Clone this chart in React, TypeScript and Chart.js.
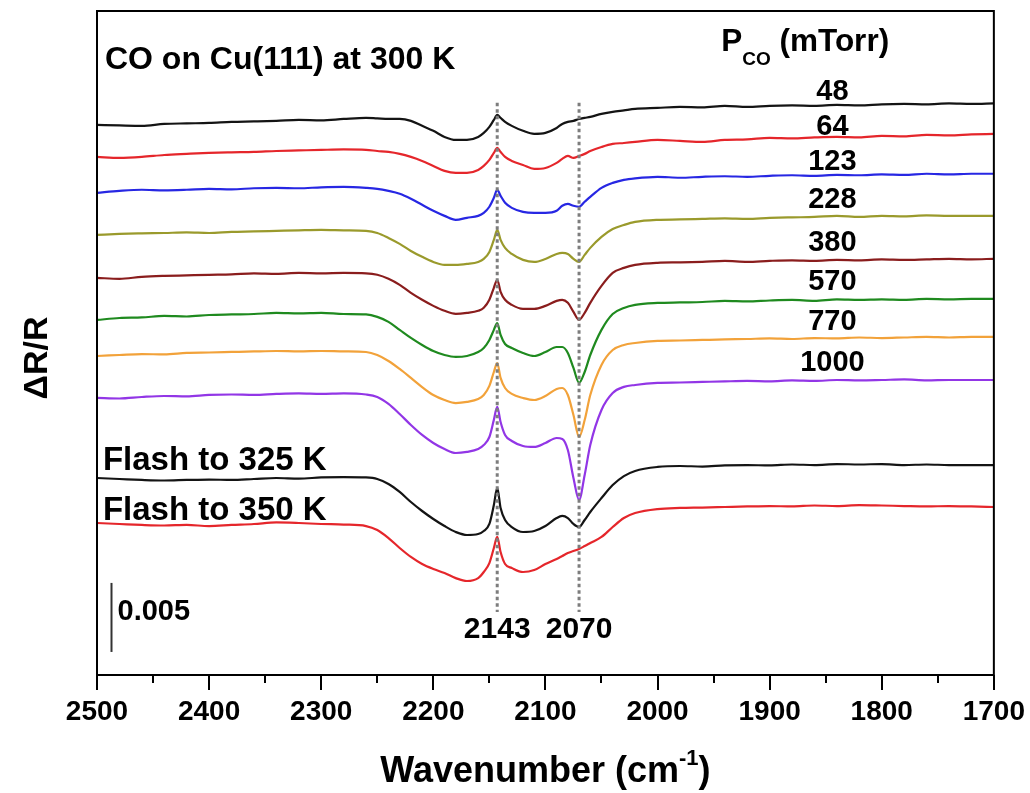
import React, { useEffect, useRef } from 'react';
import { Chart, registerables } from 'chart.js';

Chart.register(...registerables);

// Wavenumber grid (cm^-1) shared by every spectrum, high to low
const WAVENUMBERS = [
  2500, 2480, 2460, 2440, 2420, 2400, 2380, 2360, 2340, 2320, 2300, 2280, 2260,
  2250, 2240, 2230, 2220, 2210, 2200, 2190, 2180, 2170, 2160,
  2155, 2150, 2146, 2143, 2140, 2136, 2130,
  2120, 2110, 2100, 2090,
  2085, 2080, 2075, 2070, 2065, 2060,
  2050, 2040, 2030, 2020,
  2000, 1980, 1960, 1940, 1920, 1900, 1880, 1860, 1840, 1820, 1800, 1780, 1760, 1740, 1720, 1700,
];

// ΔR/R (x 1e-4) of each spectrum, relative to its value at 2500 cm^-1
const S_48 = [0, -0.4, -0.7, 0.7, 1.1, 1.4, 2.2, 2.5, 2.9, 3.6, 3.3, 4.3, 5.1,
  4.7, 4.3, 4.3, 2.9, -0.7, -4.3, -8.7, -10.9, -10.9, -8.7,
  -5.8, -1.4, 3.6, 7.2, 5.1, 2.2, -0.7,
  -4.3, -6.5, -5.8, -2.2,
  0.7, 2.2, 2.9, 4.3, 5.1, 5.8,
  8.0, 9.4, 10.5, 11.6,
  12.3, 13.0, 12.7, 13.8, 13.0, 13.8, 14.1, 13.8, 14.5, 14.1, 14.9, 15.2, 14.9, 15.6, 15.2, 15.6];
const S_64 = [0, -0.7, 0, 1.4, 2.2, 2.9, 3.3, 3.6, 4.3, 4.7, 5.1, 5.4, 5.1,
  4.3, 3.6, 2.2, 0, -2.9, -6.5, -10.1, -11.6, -11.6, -9.4,
  -6.5, -2.2, 2.9, 6.5, 3.6, 0, -2.9,
  -5.8, -8.7, -8.0, -4.3,
  -1.4, 0.7, -0.7, 0.7, 2.2, 4.3,
  7.2, 9.4, 10.1, 10.9,
  12.3, 11.6, 10.9, 12.3, 12.7, 13.8, 13.4, 14.1, 14.5, 14.1, 15.2, 14.9, 15.9, 15.6, 16.3, 16.7];
const S_123 = [0, 1.4, 2.2, 1.8, 2.2, 2.9, 2.5, 3.3, 3.6, 3.3, 4.0, 4.3, 3.6,
  2.9, 1.4, -0.7, -4.3, -8.7, -13.0, -16.7, -19.6, -18.1, -16.7,
  -14.5, -10.1, -3.6, 2.2, -2.2, -7.2, -10.9,
  -13.8, -14.5, -14.5, -13.0,
  -9.4, -8.0, -9.4, -10.1, -6.5, -2.9,
  3.6, 7.2, 9.4, 10.5,
  11.6, 10.9, 11.6, 12.0, 11.6, 12.3, 12.7, 12.3, 13.0, 12.7, 13.4, 13.0, 13.8, 13.4, 13.8, 13.8];
const S_228 = [0, 0.7, 1.1, 1.4, 1.8, 1.4, 2.2, 2.5, 2.9, 3.3, 3.6, 3.3, 2.9,
  1.4, -2.2, -6.5, -11.6, -15.9, -19.6, -21.7, -21.7, -21.0, -19.6,
  -17.4, -12.3, -3.6, 3.6, -3.6, -9.4, -13.8,
  -18.1, -19.6, -17.4, -13.8,
  -13.0, -13.8, -17.4, -19.6, -14.5, -9.4,
  -1.4, 4.3, 7.2, 9.4,
  10.9, 11.2, 11.6, 12.0, 11.6, 12.3, 12.7, 13.0, 13.8, 13.0, 13.8, 13.4, 14.1, 13.8, 13.8, 13.8];
const S_380 = [0, -0.7, 0.7, 1.4, 1.8, 2.2, 2.5, 3.3, 2.9, 3.6, 3.3, 3.6, 3.3,
  2.2, -0.7, -5.1, -10.9, -15.9, -20.3, -23.9, -26.1, -25.4, -23.9,
  -21.7, -15.9, -7.2, -1.4, -10.1, -15.9, -19.6,
  -22.5, -22.5, -20.3, -16.7,
  -15.9, -18.1, -24.6, -30.4, -25.4, -18.1,
  -5.8, 3.6, 7.2, 9.4,
  10.9, 11.2, 11.6, 12.3, 11.6, 12.3, 12.7, 12.3, 13.0, 12.7, 13.4, 13.0, 13.4, 13.8, 13.4, 13.8];
const S_570 = [0, 1.4, 1.8, 2.9, 2.5, 3.6, 4.0, 4.3, 5.1, 4.7, 5.1, 4.3, 4.0,
  2.2, -1.4, -7.2, -13.0, -18.1, -22.5, -25.4, -26.8, -26.1, -23.2,
  -20.3, -14.5, -7.2, -2.2, -10.9, -17.4, -20.3,
  -23.9, -26.1, -23.2, -19.6,
  -19.6, -23.9, -34.8, -45.6, -37.7, -25.4,
  -7.2, 4.3, 8.7, 10.9,
  12.3, 12.7, 13.0, 13.8, 13.4, 14.1, 14.5, 13.8, 14.9, 14.5, 14.9, 14.5, 15.2, 14.9, 15.2, 15.2];
const S_770 = [0, 0.7, 1.4, 1.1, 2.2, 2.5, 2.9, 3.3, 3.6, 3.3, 3.6, 3.3, 2.9,
  0.7, -3.6, -9.4, -15.9, -22.5, -28.3, -31.9, -34.1, -33.3, -31.2,
  -28.3, -21.7, -11.6, -5.1, -15.9, -23.2, -27.5,
  -30.4, -31.9, -29.0, -23.9,
  -23.2, -28.3, -42.8, -58.7, -46.4, -28.3,
  -6.5, 4.3, 8.0, 9.4,
  10.9, 11.2, 11.6, 12.0, 12.3, 12.7, 12.3, 13.0, 12.7, 13.4, 13.0, 13.4, 13.8, 13.4, 13.8, 13.8];
const S_1000 = [0, -0.4, 0.7, 1.4, 1.1, 2.2, 2.5, 2.2, 2.9, 3.3, 2.9, 3.3, 2.5,
  0.7, -4.3, -11.6, -19.6, -26.8, -32.6, -37.0, -39.9, -39.1, -37.0,
  -34.1, -28.3, -15.9, -6.5, -17.4, -26.8, -31.2,
  -34.8, -35.5, -32.6, -29.0,
  -29.7, -37.7, -58.0, -73.9, -55.8, -34.1,
  -8.7, 3.6, 8.0, 9.4,
  10.9, 11.2, 11.6, 12.0, 12.3, 12.0, 12.7, 12.3, 13.0, 12.7, 13.0, 13.4, 12.7, 13.0, 13.0, 13.0];
const S_FLASH_325 = [0, -0.7, -1.4, -1.8, -1.4, -1.1, -1.4, -0.7, 0, -0.4, 0.4, 0.7, 0.4,
  -0.7, -4.3, -10.1, -17.4, -23.9, -29.7, -34.8, -39.1, -41.3, -40.6,
  -38.4, -33.3, -19.6, -7.2, -21.7, -30.4, -35.5,
  -39.1, -38.4, -34.8, -29.0,
  -27.5, -29.0, -33.3, -35.5, -30.4, -24.6,
  -14.5, -5.1, 1.4, 5.1,
  8.0, 8.7, 8.3, 9.1, 9.4, 9.1, 9.8, 9.4, 10.1, 9.8, 10.1, 9.4, 9.8, 9.4, 9.4, 9.4];
const S_FLASH_350 = [0, -0.7, -1.4, -1.8, -1.4, -2.2, -1.4, -0.7, 0.4, 0, -0.7, -1.1, -2.2,
  -5.1, -10.9, -18.1, -24.6, -29.7, -33.3, -36.2, -39.9, -42.0, -39.9,
  -35.5, -29.0, -18.1, -10.1, -21.0, -29.7, -32.6,
  -35.5, -34.1, -29.7, -26.1,
  -23.9, -21.7, -20.3, -18.8, -16.7, -14.5,
  -10.1, -2.9, 3.6, 7.2,
  10.1, 10.9, 11.2, 11.6, 12.0, 12.3, 12.0, 12.7, 12.3, 13.0, 12.7, 12.3, 12.0, 12.3, 12.0, 11.6];

const SPECTRA = [S_48, S_64, S_123, S_228, S_380, S_570, S_770, S_1000, S_FLASH_325, S_FLASH_350];
const SERIES_NAMES = ['48', '64', '123', '228', '380', '570', '770', '1000', 'Flash to 325 K', 'Flash to 350 K'];
// Vertical stacking offsets (ΔR/R x 1e-4)
const OFFSETS = [398.5, 375.3, 349.3, 318.8, 287.7, 257.2, 231.1, 200.7, 142.7, 110.1];
const COLORS = ['#141414', '#e5262b', '#2727e3', '#9a9a2c', '#8a1d1d', '#1f8a1f', '#f2a23a', '#9236e6', '#141414', '#e5262b'];

// Pressure labels (mTorr), stacked beside the traces
const PRESSURE_LABELS = ['48', '64', '123', '228', '380', '570', '770', '1000'];
const PRESSURE_LABEL_Y = [422.4, 397.1, 371.7, 344.2, 313.0, 284.8, 255.8, 226.1];
const PRESSURE_LABEL_X = 1844;

const FLASH_LABELS = ['Flash to 325 K', 'Flash to 350 K'];
const FLASH_LABEL_Y = [155.1, 118.8];
const FLASH_LABEL_X = 2494.7;

// Reference band positions (cm^-1)
const BAND_POSITIONS = [2143, 2070];
const BAND_LINE_TOP = 414.5;
const BAND_LINE_BOTTOM = 45.6;
const BAND_LABEL_Y = 32.6;

// Scale bar: 0.005 in ΔR/R = 50 x 1e-4
const SCALE_BAR_X = 2487.5;
const SCALE_BAR_BASE = 16.7;
const SCALE_BAR_SIZE = 50;
const SCALE_BAR_TEXT = '0.005';

const X_MIN = 1700;
const X_MAX = 2500;
const Y_MAX = 481;
const MINOR_TICKS = [2450, 2350, 2250, 2150, 2050, 1950, 1850, 1750];

const FONT = "'Liberation Sans', Arial, Helvetica, sans-serif";

function boldFont(size: number) {
  return `bold ${size}px ${FONT}`;
}

const annotationPlugin = {
  id: 'spectraAnnotations',
  afterDraw(chart: any) {
    const { ctx, chartArea: a, scales } = chart;
    const x = scales.x;
    const y = scales.y;
    ctx.save();

    // frame
    ctx.strokeStyle = '#000';
    ctx.lineWidth = 2;
    ctx.strokeRect(a.left, a.top, a.right - a.left, a.bottom - a.top);

    // minor ticks on the wavenumber axis
    ctx.lineWidth = 2;
    for (const w of MINOR_TICKS) {
      const px = Math.round(x.getPixelForValue(w));
      ctx.beginPath();
      ctx.moveTo(px, a.bottom);
      ctx.lineTo(px, a.bottom + 8);
      ctx.stroke();
    }

    // dotted markers at the band positions
    ctx.strokeStyle = '#7d7d7d';
    ctx.lineWidth = 3;
    ctx.setLineDash([3.5, 3]);
    for (const w of BAND_POSITIONS) {
      const px = x.getPixelForValue(w);
      ctx.beginPath();
      ctx.moveTo(px, y.getPixelForValue(BAND_LINE_TOP));
      ctx.lineTo(px, y.getPixelForValue(BAND_LINE_BOTTOM));
      ctx.stroke();
    }
    ctx.setLineDash([]);

    ctx.fillStyle = '#000';
    ctx.textBaseline = 'middle';

    // band labels
    ctx.font = boldFont(30);
    ctx.textAlign = 'center';
    for (const w of BAND_POSITIONS) {
      ctx.fillText(String(w), x.getPixelForValue(w), y.getPixelForValue(BAND_LABEL_Y));
    }

    // pressure labels
    ctx.font = boldFont(29);
    PRESSURE_LABELS.forEach((t, i) => {
      ctx.fillText(t, x.getPixelForValue(PRESSURE_LABEL_X), y.getPixelForValue(PRESSURE_LABEL_Y[i]));
    });

    // flash labels
    ctx.textAlign = 'left';
    ctx.font = boldFont(33);
    FLASH_LABELS.forEach((t, i) => {
      ctx.fillText(t, x.getPixelForValue(FLASH_LABEL_X), y.getPixelForValue(FLASH_LABEL_Y[i]));
    });

    // title
    ctx.font = boldFont(32);
    ctx.fillText('CO on Cu(111) at 300 K', x.getPixelForValue(2492.9), y.getPixelForValue(445.6));

    // P_CO (mTorr) header
    let hx = x.getPixelForValue(1943.2);
    const hy = y.getPixelForValue(458.3);
    ctx.font = boldFont(31.5);
    ctx.fillText('P', hx, hy);
    hx += ctx.measureText('P').width;
    ctx.font = boldFont(19);
    ctx.fillText('CO', hx, hy + 17);
    hx += ctx.measureText('CO').width;
    ctx.font = boldFont(31.5);
    ctx.fillText(' (mTorr)', hx, hy);

    // scale bar
    const sbx = Math.round(x.getPixelForValue(SCALE_BAR_X)) + 0.5;
    ctx.strokeStyle = '#333';
    ctx.lineWidth = 2;
    ctx.beginPath();
    ctx.moveTo(sbx, y.getPixelForValue(SCALE_BAR_BASE));
    ctx.lineTo(sbx, y.getPixelForValue(SCALE_BAR_BASE + SCALE_BAR_SIZE));
    ctx.stroke();
    ctx.font = boldFont(29);
    ctx.fillText(SCALE_BAR_TEXT, sbx + 6, y.getPixelForValue(SCALE_BAR_BASE + SCALE_BAR_SIZE * 0.58));

    // axis titles
    ctx.font = boldFont(36);
    const main = 'Wavenumber (cm';
    const sup = '-1';
    const close = ')';
    const wMain = ctx.measureText(main).width;
    const wClose = ctx.measureText(close).width;
    ctx.font = boldFont(22);
    const wSup = ctx.measureText(sup).width;
    const total = wMain + wSup + wClose;
    let tx = (a.left + a.right) / 2 - total / 2;
    const ty = a.bottom + 97;
    ctx.font = boldFont(36);
    ctx.fillText(main, tx, ty);
    tx += wMain;
    ctx.font = boldFont(22);
    ctx.fillText(sup, tx, ty - 13);
    tx += wSup;
    ctx.font = boldFont(36);
    ctx.fillText(close, tx, ty);

    ctx.translate(a.left - 59, (a.top + a.bottom) / 2 + 15);
    ctx.rotate(-Math.PI / 2);
    ctx.textAlign = 'center';
    ctx.font = boldFont(34);
    ctx.fillText('ΔR/R', 0, 0);

    ctx.restore();
  },
};

export default function App() {
  const canvasRef = useRef<HTMLCanvasElement>(null);

  useEffect(() => {
    document.body.style.margin = '0';
    const canvas = canvasRef.current;
    if (!canvas) return;

    const datasets = SPECTRA.map((s, k) => ({
      label: SERIES_NAMES[k],
      data: WAVENUMBERS.map((w, i) => ({ x: w, y: OFFSETS[k] + s[i] })),
      borderColor: COLORS[k],
      backgroundColor: COLORS[k],
      borderWidth: 2.2,
      pointRadius: 0,
      fill: false,
      cubicInterpolationMode: 'monotone' as const,
    }));

    const chart = new Chart(canvas, {
      type: 'line',
      data: { datasets },
      options: {
        animation: false,
        responsive: false,
        devicePixelRatio: 1,
        layout: { padding: { top: 11, right: 35, left: 0, bottom: 0 } },
        plugins: {
          legend: { display: false },
          tooltip: { enabled: false },
        },
        scales: {
          x: {
            type: 'linear',
            reverse: true,
            min: X_MIN,
            max: X_MAX,
            border: { display: false },
            grid: {
              display: true,
              drawOnChartArea: false,
              drawTicks: true,
              tickLength: 15,
              color: '#000',
              lineWidth: 2,
            },
            ticks: {
              stepSize: 100,
              autoSkip: false,
              maxRotation: 0,
              padding: 5,
              color: '#000',
              font: { family: FONT, size: 28, weight: 'bold' },
              callback: (v: any) => String(v),
            },
            afterFit: (scale: any) => {
              scale.height = 118;
            },
          },
          y: {
            type: 'linear',
            min: 0,
            max: Y_MAX,
            border: { display: false },
            grid: { display: false },
            ticks: { display: false },
            afterFit: (scale: any) => {
              scale.width = 97;
            },
          },
        },
      },
      plugins: [annotationPlugin],
    });

    return () => chart.destroy();
  }, []);

  return (
    <div style={{ width: 1030, height: 793 }}>
      <canvas ref={canvasRef} width={1030} height={793} style={{ display: 'block' }} />
    </div>
  );
}
